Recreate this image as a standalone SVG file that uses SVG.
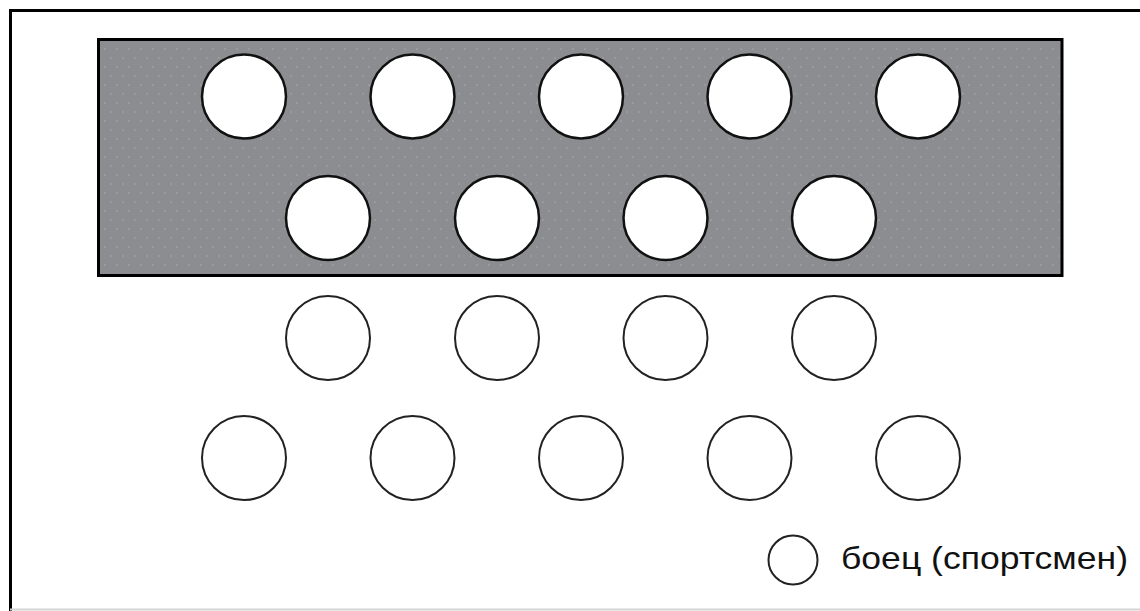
<svg xmlns="http://www.w3.org/2000/svg" width="1140" height="611" viewBox="0 0 1140 611">
<style>
.frame{fill:none;stroke:#000;stroke-width:3}
.zone{fill:#8b8d90;stroke:#000;stroke-width:3}
.fighter{stroke:#111;stroke-width:2.5;fill:#fff}
.outline{stroke:#222;stroke-width:2;fill:#fff}
.label{font-family:"Liberation Sans",Arial,sans-serif;font-size:32px;fill:#111}
</style>
<defs>
<pattern id="dots" width="12" height="18" patternUnits="userSpaceOnUse">
<circle cx="3" cy="4" r="0.8" fill="#a9abae"/>
<circle cx="9" cy="13" r="0.8" fill="#a9abae"/>
</pattern>
</defs>
<rect width="1140" height="611" fill="#fff"/>
<g id="frame">
<path d="M10.5 611 V10.5 H1140" class="frame"/>
<line x1="10" y1="609.5" x2="1140" y2="609.5" stroke="#d4d4d4" stroke-width="2"/>
</g>
<g id="zone">
<rect x="98.5" y="39.5" width="963.5" height="236" class="zone"/>
<rect x="101" y="42" width="958.5" height="231" fill="url(#dots)"/>
</g>
<g id="row1">
<circle id="f1" cx="244" cy="96.5" r="42" class="fighter"/>
<circle id="f2" cx="412.5" cy="96.5" r="42" class="fighter"/>
<circle id="f3" cx="581" cy="96.5" r="42" class="fighter"/>
<circle id="f4" cx="749.5" cy="96.5" r="42" class="fighter"/>
<circle id="f5" cx="918" cy="96.5" r="42" class="fighter"/>
</g>
<g id="row2">
<circle id="f6" cx="328" cy="218" r="42" class="fighter"/>
<circle id="f7" cx="497" cy="218" r="42" class="fighter"/>
<circle id="f8" cx="665.5" cy="218" r="42" class="fighter"/>
<circle id="f9" cx="834" cy="218" r="42" class="fighter"/>
</g>
<g id="row3">
<circle id="f10" cx="328" cy="338" r="42" class="outline"/>
<circle id="f11" cx="497" cy="338" r="42" class="outline"/>
<circle id="f12" cx="665.5" cy="338" r="42" class="outline"/>
<circle id="f13" cx="834" cy="338" r="42" class="outline"/>
</g>
<g id="row4">
<circle id="f14" cx="244" cy="458" r="42" class="outline"/>
<circle id="f15" cx="412.5" cy="458" r="42" class="outline"/>
<circle id="f16" cx="581" cy="458" r="42" class="outline"/>
<circle id="f17" cx="749.5" cy="458" r="42" class="outline"/>
<circle id="f18" cx="918" cy="458" r="42" class="outline"/>
</g>
<g id="legend">
<circle cx="793" cy="560" r="24.5" class="outline"/>
<text x="841" y="569" class="label" textLength="287" lengthAdjust="spacingAndGlyphs">боец (спортсмен)</text>
</g>
<g id="connectors"></g>
</svg>
